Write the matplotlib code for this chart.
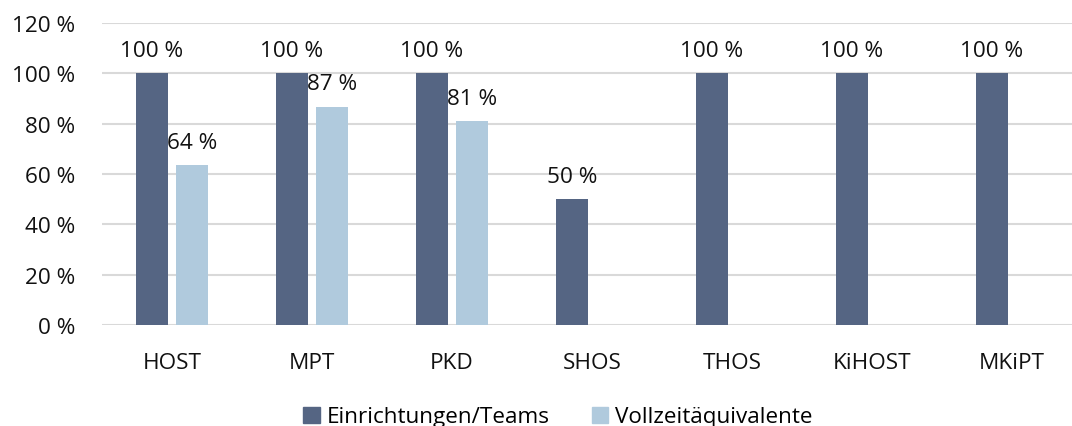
import numpy as np
import matplotlib.pyplot as plt
from matplotlib.patches import Patch

plt.rcParams['font.family'] = ['Open Sans', 'DejaVu Sans']

categories = ['HOST', 'MPT', 'PKD', 'SHOS', 'THOS', 'KiHOST', 'MKiPT']
einrichtungen = [100, 100, 100, 50, 100, 100, 100]
vollzeit = [63.6, 86.7, 80.9, np.nan, np.nan, np.nan, np.nan]
yticks = [0, 20, 40, 60, 80, 100, 120]

dark = '#556583'
light = '#B0CADD'
fs = 16.2

fig = plt.figure(figsize=(10.72, 4.27), dpi=100)
# axes runs a bit past the right edge, like the cropped original
ax = fig.add_axes([102 / 1072, 101 / 427, 980 / 1072, 302 / 427])

x = np.arange(len(categories))
w = 0.224
off = 0.143

b1 = ax.bar(x - off, einrichtungen, w, color=dark, zorder=3)
b2 = ax.bar(x + off, vollzeit, w, color=light, zorder=3)

for bars, vals in [(b1, einrichtungen), (b2, vollzeit)]:
    for rect, v in zip(bars, vals):
        if np.isnan(v):
            continue
        ax.annotate('%d %%' % round(v), (rect.get_x() + rect.get_width() / 2, v),
                    xytext=(0, 12.5), textcoords='offset points',
                    ha='center', va='baseline', fontsize=fs, color='#111111')

ax.set_xlim(-0.5, len(categories) - 0.5)
ax.set_ylim(0, 120)
ax.set_yticks(yticks)
ax.set_yticklabels(['%d %%' % t for t in yticks])
ax.set_xticks(x)
ax.set_xticklabels(categories)
ax.tick_params(axis='both', length=0, labelsize=fs, colors='#111111')
ax.tick_params(axis='y', pad=19)
ax.tick_params(axis='x', pad=19.5)
ax.grid(axis='y', color='#D9D9D9', linewidth=1.5, zorder=0)
for s in ax.spines.values():
    s.set_visible(False)

handles = [Patch(color=dark, label='Einrichtungen/Teams'),
           Patch(color=light, label='Vollzeitäquivalente')]
fig.legend(handles=handles, loc='center', bbox_to_anchor=(558 / 1072, 1 - 418 / 427),
           ncol=2, frameon=False, fontsize=fs, handlelength=0.72, handleheight=0.72,
           handletextpad=0.3, columnspacing=1.9)

fig.savefig('out.png', dpi=100)
